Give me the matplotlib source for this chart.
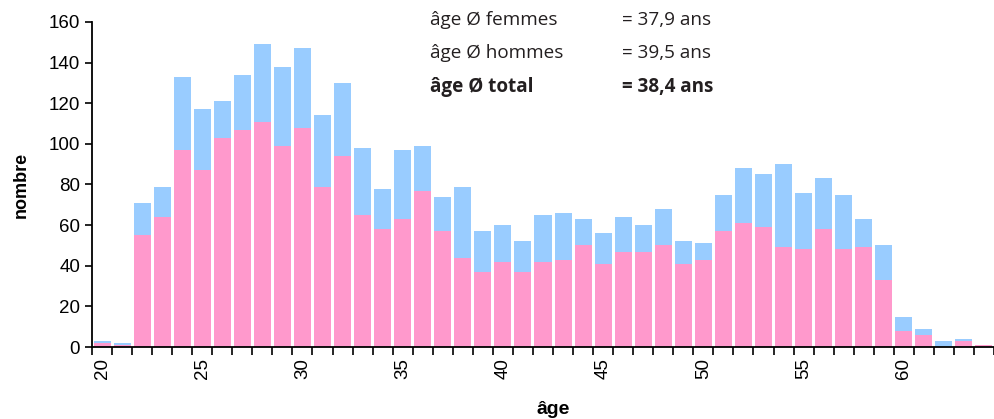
import matplotlib
matplotlib.use("Agg")
import matplotlib.pyplot as plt
import numpy as np

plt.rcParams['font.family'] = ['Liberation Sans', 'DejaVu Sans']

ages = list(range(20, 65))
totals = [3, 2, 71, 79, 133, 117, 121, 134, 149, 138, 147, 114, 130, 98, 78, 97,
          99, 74, 79, 57, 60, 52, 65, 66, 63, 56, 64, 60, 68, 52, 51, 75, 88, 85,
          90, 76, 83, 75, 63, 50, 15, 9, 3, 4, 1]
femmes = [2, 1, 55, 64, 97, 87, 103, 107, 111, 99, 108, 79, 94, 65, 58, 63,
          77, 57, 44, 37, 42, 37, 42, 43, 50, 41, 47, 47, 50, 41, 43, 57, 61, 59,
          49, 48, 58, 48, 49, 33, 8, 6, 0, 3, 1]
hommes = [t - f for t, f in zip(totals, femmes)]

stat_labels = ["âge Ø femmes", "âge Ø hommes", "âge Ø total"]
stat_values = ["= 37,9 ans", "= 39,5 ans", "= 38,4 ans"]

fig = plt.figure(figsize=(9.94, 4.19), dpi=100)
ax = fig.add_axes([92/994, 72/419, 902/994, 325/419])

x = np.arange(len(ages))
ax.bar(x, femmes, width=0.85, color="#ff99cc", linewidth=0)
ax.bar(x, hommes, width=0.85, bottom=femmes, color="#99ccff", linewidth=0)

ax.set_xlim(-0.5, len(ages) - 0.5)
ax.set_ylim(0, 160)
ax.set_yticks(range(0, 161, 20))
ax.tick_params(axis='y', labelsize=13.5, length=5, width=1.2, direction='out')

# ticks between bars, labels every 5 years
ax.set_xticks(np.arange(len(ages) + 1) - 0.5, minor=False)
ax.set_xticklabels([])
lab_pos = [i for i, a in enumerate(ages) if a % 5 == 0]
ax.set_xticks(lab_pos, minor=True)
ax.set_xticklabels([str(ages[i]) for i in lab_pos], minor=True, rotation=90)
ax.tick_params(axis='x', which='major', length=6, width=1.2, direction='out')
ax.tick_params(axis='x', which='minor', length=0, labelsize=13.5, pad=8)

for s in ['top', 'right']:
    ax.spines[s].set_visible(False)
ax.spines['left'].set_linewidth(1.3)
ax.spines['bottom'].set_linewidth(1.3)

ax.set_ylabel("nombre", fontsize=13, fontweight='bold', labelpad=14)
ax.set_xlabel("âge", fontsize=14, fontweight='bold')
ax.xaxis.set_label_coords((553 - 92) / 902, -0.165)

ys = [20, 53, 87]
for i, (lab, val) in enumerate(zip(stat_labels, stat_values)):
    w = 'bold' if i == 2 else 'normal'
    fig.text(430/994, 1 - ys[i]/419, lab, fontsize=13.6, fontweight=w,
             color='#231f20', va='center', family=['Open Sans', 'DejaVu Sans'])
    fig.text(622/994, 1 - ys[i]/419, val, fontsize=13.6, fontweight=w,
             color='#231f20', va='center', family=['Open Sans', 'DejaVu Sans'])

fig.savefig("out.png", dpi=100)
